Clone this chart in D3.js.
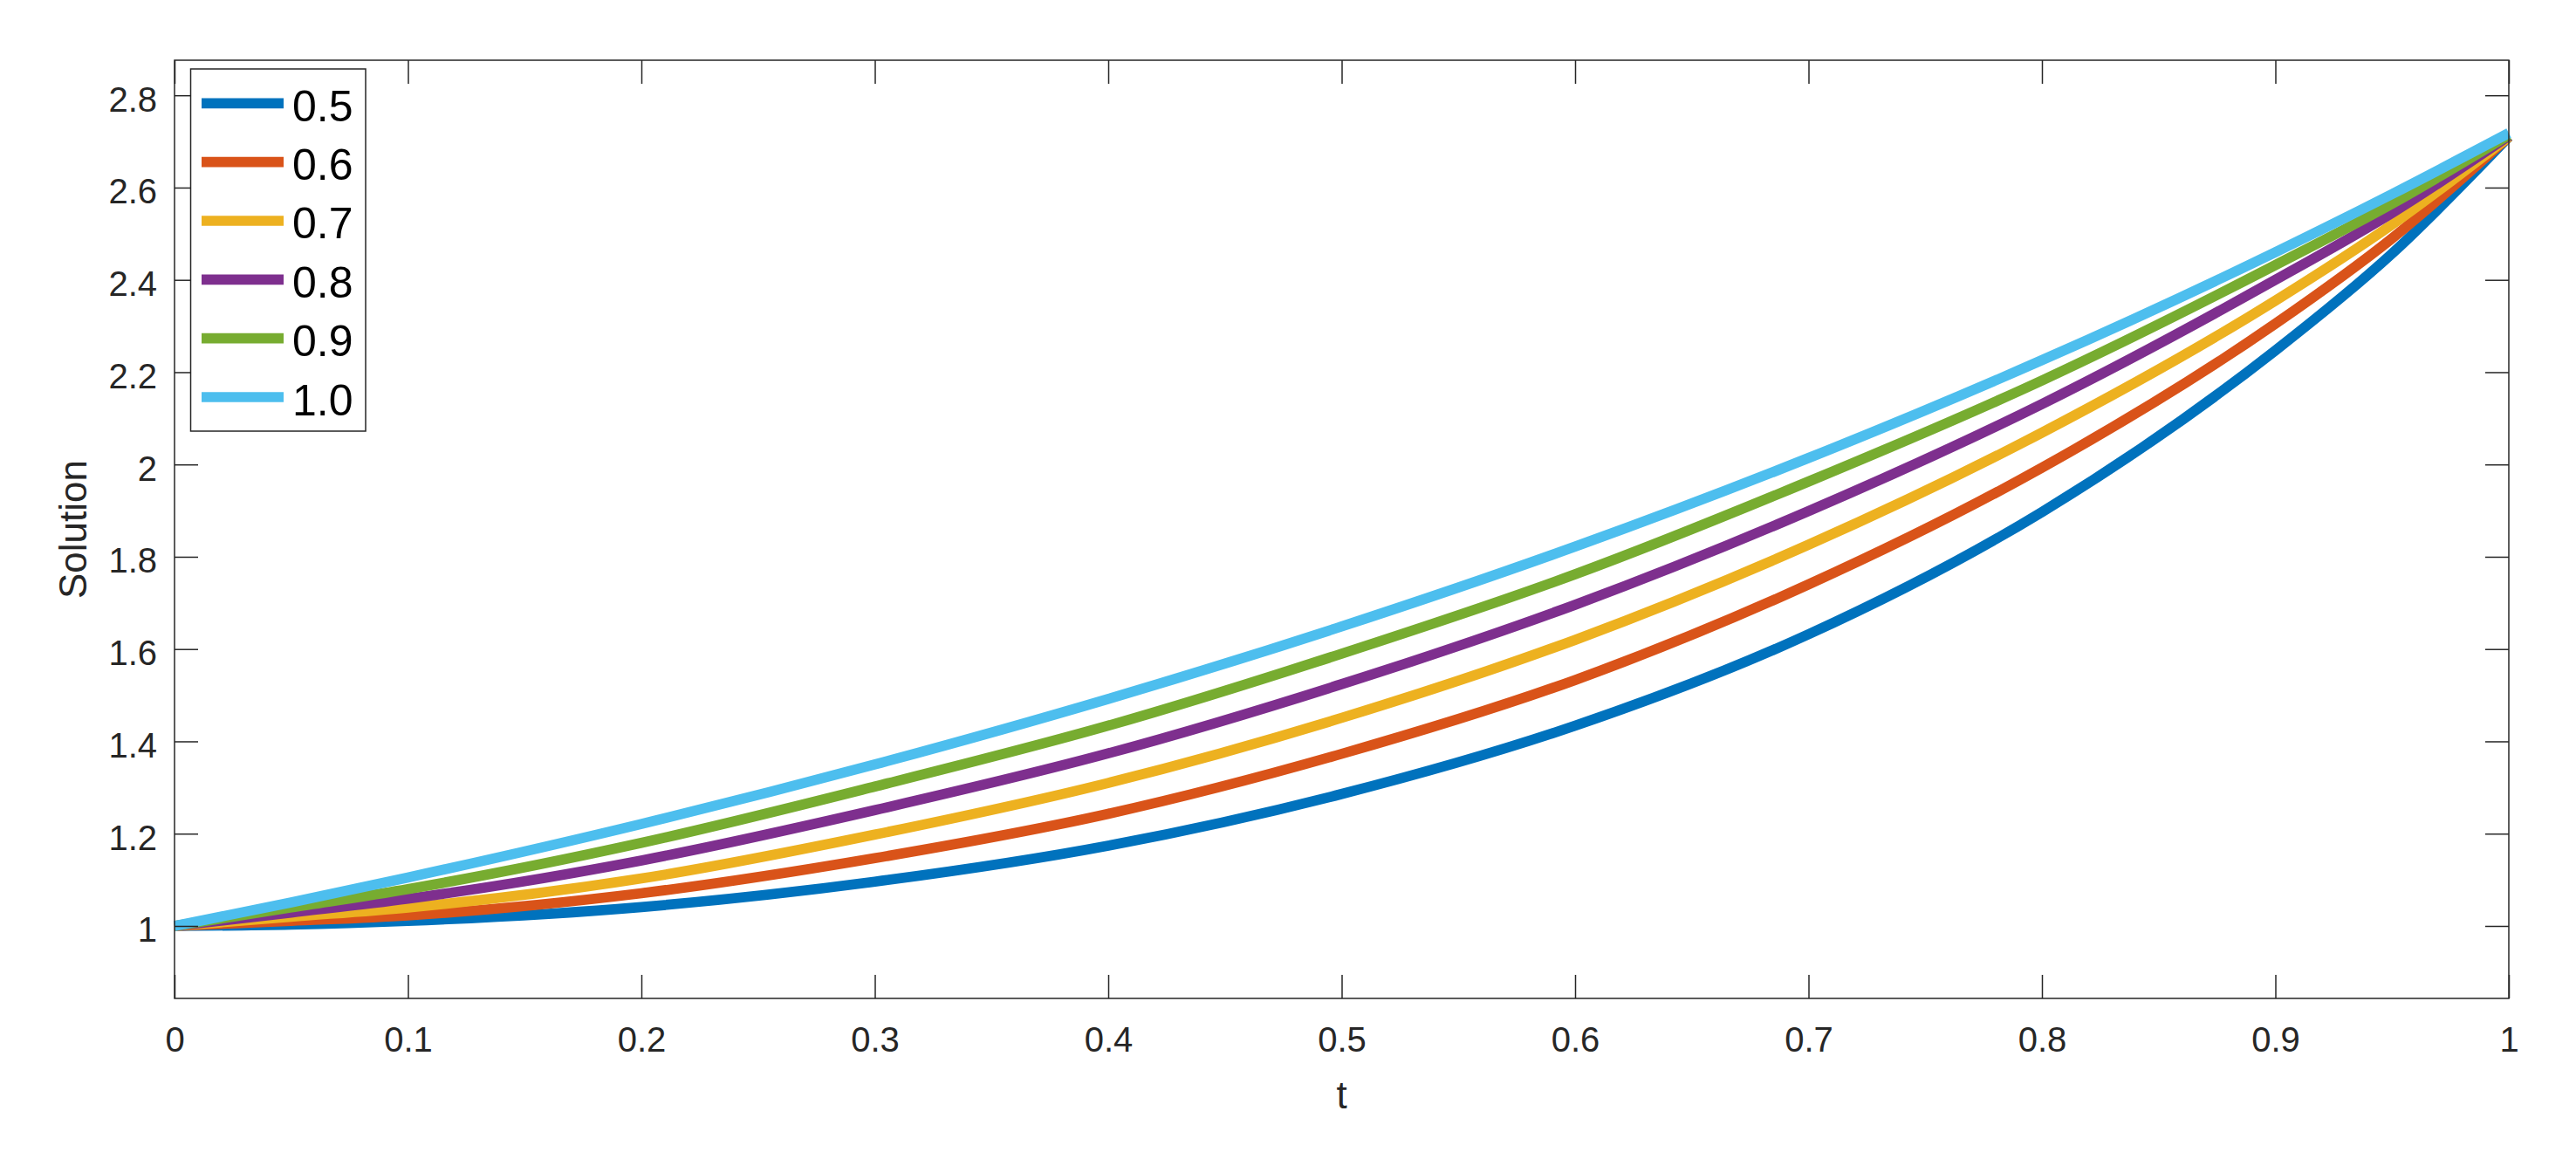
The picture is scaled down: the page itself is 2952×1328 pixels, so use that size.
<!DOCTYPE html>
<html>
<head>
<meta charset="utf-8">
<script src="https://cdn.jsdelivr.net/npm/d3@7"></script>
<style>
  html, body { margin: 0; padding: 0; background: #ffffff; }
  svg { display: block; }
  text { font-family: "Liberation Sans", Arial, Helvetica, sans-serif; }
</style>
</head>
<body>
<svg id="chart" width="2952" height="1328"></svg>
<script>
// ---- data ----
const tValues = [0, 0.05, 0.1, 0.2, 0.3, 0.4, 0.5, 0.6, 0.7, 0.8, 0.9, 0.95, 1.0];
const seriesNames = ["0.5", "0.6", "0.7", "0.8", "0.9", "1.0"];
const seriesColors = ["#0072BD", "#D95319", "#EDB120", "#7E2F8E", "#77AC30", "#4DBEEE"];
const alpha05 = [1, 1.003, 1.011, 1.041, 1.096, 1.174, 1.286, 1.434, 1.632, 1.897, 2.247, 2.457, 2.710];
const alpha06 = [1, 1.011, 1.023, 1.071, 1.147, 1.243, 1.373, 1.533, 1.740, 1.993, 2.305, 2.490, 2.710];
const alpha07 = [1, 1.020, 1.040, 1.103, 1.198, 1.310, 1.451, 1.620, 1.826, 2.069, 2.355, 2.520, 2.710];
const alpha08 = [1, 1.029, 1.059, 1.142, 1.251, 1.374, 1.524, 1.696, 1.899, 2.131, 2.400, 2.545, 2.712];
const alpha09 = [1, 1.040, 1.080, 1.180, 1.302, 1.434, 1.590, 1.762, 1.963, 2.182, 2.432, 2.565, 2.714];
const alpha10 = [1, 1.051, 1.105, 1.221, 1.350, 1.492, 1.649, 1.822, 2.014, 2.226, 2.460, 2.586, 2.718];
const seriesValues = [alpha05, alpha06, alpha07, alpha08, alpha09, alpha10];
const xTicks = [0, 0.1, 0.2, 0.3, 0.4, 0.5, 0.6, 0.7, 0.8, 0.9, 1];
const yTicks = [1, 1.2, 1.4, 1.6, 1.8, 2, 2.2, 2.4, 2.6, 2.8];
const xDomain = [0, 1];
const yDomain = [0.843, 2.876];
const xLabel = "t";
const yLabel = "Solution";

// ---- layout ----
const L = 200, R = 2875, T = 69, B = 1144;
const axisColor = "#262626";
const tickLen = 27;

const svg = d3.select("#chart");
const x = d3.scaleLinear().domain(xDomain).range([L, R]);
const y = d3.scaleLinear().domain(yDomain).range([B, T]);

// data lines
const line = d3.line()
  .x((d) => x(d[0]))
  .y((d) => y(d[1]))
  .curve(d3.curveMonotoneX);

const gLines = svg.append("g");
seriesValues.forEach((vals, i) => {
  const pts = tValues.map((t, k) => [t, vals[k]]);
  gLines.append("path")
    .datum(pts)
    .attr("d", line)
    .attr("fill", "none")
    .attr("stroke", seriesColors[i])
    .attr("stroke-width", 11.7)
    .attr("stroke-linejoin", "round");
});

// axes (box with inward ticks on all sides)
const fmt = (v) => d3.format("~g")(v);
const gAx = svg.append("g");

const bottomAxis = d3.axisBottom(x).tickValues(xTicks).tickSizeInner(-tickLen).tickSizeOuter(0).tickFormat(fmt);
const topAxis = d3.axisTop(x).tickValues(xTicks).tickSizeInner(-tickLen).tickSizeOuter(0).tickFormat(() => "");
const leftAxis = d3.axisLeft(y).tickValues(yTicks).tickSizeInner(-tickLen).tickSizeOuter(0).tickPadding(20).tickFormat(fmt);
const rightAxis = d3.axisRight(y).tickValues(yTicks).tickSizeInner(-tickLen).tickSizeOuter(0).tickFormat(() => "");

function style(g) {
  g.select(".domain").remove();
  g.selectAll(".tick line").attr("stroke", axisColor).attr("stroke-width", 1.5);
  g.selectAll(".tick text").attr("fill", axisColor).attr("font-size", 40)
    .attr("font-family", "Liberation Sans, Arial, sans-serif");
}

const gb = gAx.append("g").attr("transform", `translate(0,${B})`).call(bottomAxis).call(style);
gb.selectAll(".tick text").attr("dy", null).attr("y", 61);
const gt = gAx.append("g").attr("transform", `translate(0,${T})`).call(topAxis).call(style);
const gl = gAx.append("g").attr("transform", `translate(${L},0)`).call(leftAxis).call(style);
gl.selectAll(".tick text").attr("dy", null).attr("y", 18);
const gr = gAx.append("g").attr("transform", `translate(${R},0)`).call(rightAxis).call(style);

gAx.append("rect")
  .attr("x", L).attr("y", T).attr("width", R - L).attr("height", B - T)
  .attr("fill", "none").attr("stroke", axisColor).attr("stroke-width", 1.5);

// axis labels
svg.append("text")
  .attr("x", (L + R) / 2).attr("y", 1270)
  .attr("text-anchor", "middle")
  .attr("font-size", 44).attr("fill", axisColor)
  .text(xLabel);
svg.append("text")
  .attr("transform", `translate(99,${(T + B) / 2}) rotate(-90)`)
  .attr("text-anchor", "middle")
  .attr("font-size", 44).attr("fill", axisColor)
  .text(yLabel);

// legend
const lg = svg.append("g");
lg.append("rect")
  .attr("x", 218.5).attr("y", 79).attr("width", 200.5).attr("height", 415)
  .attr("fill", "#ffffff").attr("stroke", axisColor).attr("stroke-width", 1.5);
const rowY = d3.scaleLinear().domain([0, seriesNames.length - 1]).range([118.3, 455]);
seriesNames.forEach((name, i) => {
  const cy = rowY(i);
  lg.append("line")
    .attr("x1", 231).attr("x2", 325).attr("y1", cy).attr("y2", cy)
    .attr("stroke", seriesColors[i]).attr("stroke-width", 11.7);
  lg.append("text")
    .attr("x", 335).attr("y", cy + 20.5)
    .attr("font-size", 50).attr("fill", "#000000")
    .text(name);
});
</script>
</body>
</html>
